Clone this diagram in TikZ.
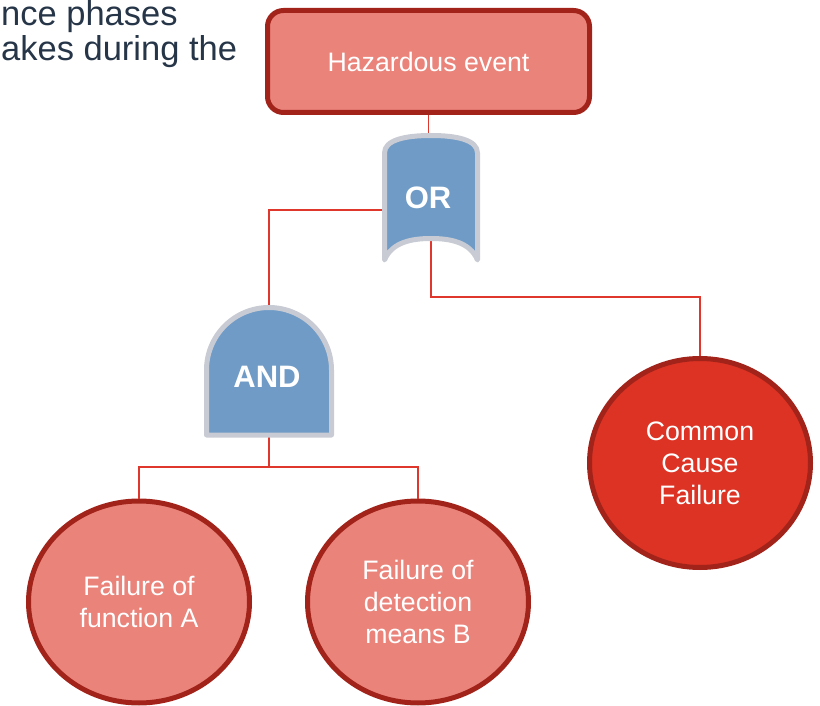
\documentclass[tikz,border=0pt]{standalone}
\usepackage{fontspec}
\setmainfont{Liberation Sans}
\usetikzlibrary{shapes.geometric}

\definecolor{edgered}{HTML}{A2231A}
\definecolor{salmon}{HTML}{EA837A}
\definecolor{ccfred}{HTML}{DC3324}
\definecolor{wirered}{HTML}{E0372C}
\definecolor{gateblue}{HTML}{6F9BC6}
\definecolor{gategrey}{HTML}{C8CBD3}
\definecolor{slate}{HTML}{263547}

\tikzset{
  wire/.style={draw=wirered, line width=1.5pt},
  eventbox/.style={draw=edgered, line width=5pt, fill=salmon, rounded corners=16pt,
    minimum width=322pt, minimum height=102pt, text=white,
    font=\fontsize{26.7}{32}\selectfont},
  basicevent/.style={ellipse, draw=edgered, line width=5pt, fill=salmon, text=white,
    align=center, inner sep=0pt, font=\fontsize{26.7}{32}\selectfont},
  gatebody/.style={fill=gateblue, draw=gategrey, line width=5pt, line join=round},
  gatelabel/.style={text=white, font=\bfseries\fontsize{31}{36}\selectfont},
  introtext/.style={anchor=base west, inner sep=0pt, text=slate,
    font=\fontsize{34.5}{40}\selectfont}
}

\begin{document}
\begin{tikzpicture}[x=1pt, y=-1pt]
\useasboundingbox (0,0) rectangle (820,706);

% heading text running in from the left
\node[introtext] (intro1) at (1,26) {nce phases};
\node[introtext] (intro2) at (1,60.5) {akes during the};

% events
\node[eventbox] (hz) at (428.5,61.5) {Hazardous event};
\node[basicevent, fill=ccfred, minimum width=221pt, minimum height=209pt] (ccf) at (700,463)
  {Common\\Cause\\Failure};
\node[basicevent, minimum width=221pt, minimum height=202pt] (fa) at (139,602)
  {Failure of\\function A};
\node[basicevent, minimum width=221pt, minimum height=202pt] (fb) at (418,602)
  {Failure of\\detection\\means B};

% gate connection points
\coordinate (orN) at (431,135);
\coordinate (orW) at (383,210);
\coordinate (orS) at (431,238);
\coordinate (andN) at (269,307);
\coordinate (andS) at (269,436);

% connectors
\draw[wire] (hz.south) -- (hz.south |- orN);
\draw[wire] (orW) -| (andN);
\draw[wire] (orS) -- ++(0,59) -| (ccf.north);
\draw[wire] (andS) -- ++(0,31) coordinate (split);
\draw[wire] (fa.north) |- (split) -| (fb.north);

% OR gate
\path[gatebody] (384.5,260) -- (384.5,153)
  .. controls (384.5,140) and (405,135.5) .. (431,135.5)
  .. controls (457,135.5) and (477.5,140) .. (477.5,153)
  -- (477.5,260)
  .. controls (470,242) and (450,238.5) .. (431,238.5)
  .. controls (412,238.5) and (392,242) .. (384.5,260) -- cycle;
\node[gatelabel] (orlabel) at (428,198) {OR};

% AND gate
\path[gatebody] (206.5,435) -- (206.5,370)
  arc[start angle=180, end angle=360, radius=62.5]
  -- (331.5,435) -- cycle;
\node[gatelabel] (andlabel) at (267,377) {AND};
\end{tikzpicture}
\end{document}
